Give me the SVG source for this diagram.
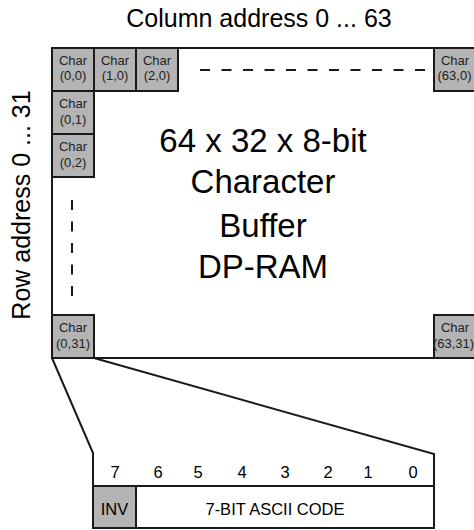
<svg xmlns="http://www.w3.org/2000/svg" width="474" height="530" viewBox="0 0 474 530">
<style>
text{font-family:"Liberation Sans",Arial,sans-serif;fill:#000}
.cell{fill:#b4b4b4;stroke:#1a1a1a;stroke-width:2}
.ct{font-size:13px;text-anchor:middle;fill:#222}
.box{fill:#fff;stroke:#1a1a1a;stroke-width:2}
.dash{stroke:#1a1a1a;stroke-width:2;stroke-dasharray:10 11.5;fill:none}
.ln{stroke:#1a1a1a;stroke-width:2;fill:none}
.big{font-size:33px;text-anchor:middle}
.lbl{font-size:25px;text-anchor:middle}
.bit{font-size:16.5px;text-anchor:middle}
</style>
<rect width="474" height="530" fill="#fff"/>
<text id="col-label" class="lbl" x="259" y="27">Column address 0 ... 63</text>
<text id="row-label" class="lbl" transform="translate(30,205) rotate(-90)">Row address 0 ... 31</text>
<g id="buffer">
<rect class="box" x="52" y="48" width="426" height="310"/>
<text class="big" x="263" y="152">64 x 32 x 8-bit</text>
<text class="big" x="263" y="193">Character</text>
<text class="big" x="263" y="237">Buffer</text>
<text class="big" x="263" y="278">DP-RAM</text>
<line class="dash" x1="200" y1="70" x2="426" y2="70"/>
<line class="dash" x1="72" y1="200" x2="72" y2="300"/>
</g>
<g id="c00"><rect class="cell" x="52" y="48" width="42" height="43"/><text class="ct" x="73" y="65">Char</text><text class="ct" x="73" y="80">(0,0)</text></g>
<g id="c10"><rect class="cell" x="94" y="48" width="42" height="43"/><text class="ct" x="115" y="65">Char</text><text class="ct" x="115" y="80">(1,0)</text></g>
<g id="c20"><rect class="cell" x="136" y="48" width="42" height="43"/><text class="ct" x="157" y="65">Char</text><text class="ct" x="157" y="80">(2,0)</text></g>
<g id="c01"><rect class="cell" x="52" y="91" width="42" height="43"/><text class="ct" x="73" y="108">Char</text><text class="ct" x="73" y="124">(0,1)</text></g>
<g id="c02"><rect class="cell" x="52" y="134" width="42" height="43"/><text class="ct" x="73" y="151">Char</text><text class="ct" x="73" y="167">(0,2)</text></g>
<g id="c630"><rect class="cell" x="434" y="48" width="42" height="43"/><text class="ct" x="455" y="65">Char</text><text class="ct" x="454.5" y="80">(63,0)</text></g>
<g id="c031"><rect class="cell" x="52" y="315" width="42" height="43"/><text class="ct" x="73" y="332">Char</text><text class="ct" x="73" y="348">(0,31)</text></g>
<g id="c6331"><rect class="cell" x="434" y="315" width="42" height="43"/><text class="ct" x="455" y="332">Char</text><text class="ct" x="453.5" y="348">(63,31)</text></g>
<g id="connectors">
<polyline class="ln" points="52,358 93,453 93,486"/>
<polyline class="ln" points="94,358 434,454 434,486"/>
</g>
<g id="byte">
<text class="bit" x="115" y="478">7</text>
<text class="bit" x="158" y="478">6</text>
<text class="bit" x="198" y="478">5</text>
<text class="bit" x="242" y="478">4</text>
<text class="bit" x="285" y="478">3</text>
<text class="bit" x="328" y="478">2</text>
<text class="bit" x="368" y="478">1</text>
<text class="bit" x="413" y="478">0</text>
<rect class="box" x="93" y="486" width="341" height="42"/>
<rect class="cell" x="93" y="486" width="43" height="42"/>
<text class="bit" x="114.5" y="515">INV</text>
<text class="bit" x="275" y="515">7-BIT ASCII CODE</text>
</g>
</svg>
